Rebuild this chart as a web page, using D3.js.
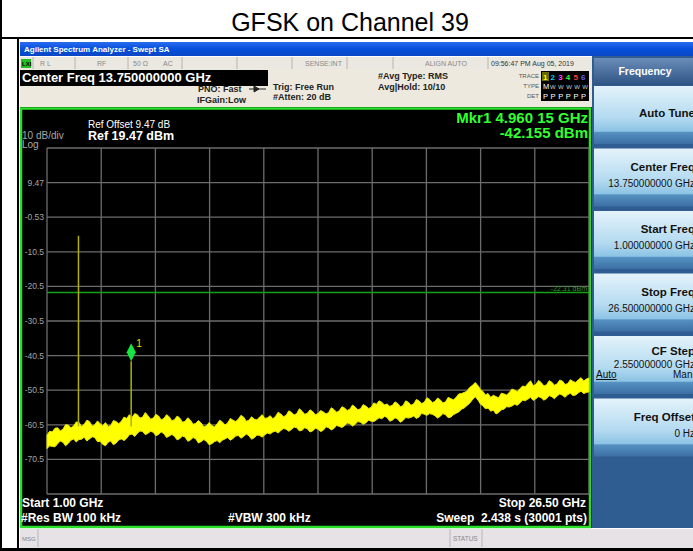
<!doctype html>
<html lang="en">
<head>
<meta charset="UTF-8">
<title>GFSK on Channel 39</title>
<script src="https://d3js.org/d3.v7.min.js"></script>
<style>
body { margin: 0; background-color: #ffffff; }
svg { display: block; }
text { font-family: "Liberation Sans", Arial, sans-serif; }
</style>
</head>
<body>
<div id="plot"></div>
<script>

// sweep settings
var startGHz = 1.00;
var stopGHz = 26.50;
var refLevel = 19.47;
var dbPerDiv = 10;
var displayLine = -22.31;

// y tick labels printed on the left of the graticule
var yTickLabels = ["9.47", "-0.53", "-10.5", "-20.5", "-30.5", "-40.5", "-50.5", "-60.5", "-70.5"];

// sample frequencies of the noise floor (GHz), finer around the bump at 21.15 GHz
var traceGHz = d3.range(1, 21.001, 0.125)
	.concat([21.15, 21.30, 21.40, 21.50])
	.concat(d3.range(21.625, 26.501, 0.125));

// noise floor: top edge of the yellow band (dBm), one row per GHz
var traceUpper = [
	-63.5, -62.4, -62.6, -61.5, -61.4, -62.3, -61.8, -60.5,
	-60.6, -61.4, -60.9, -59.7, -59.8, -61.0, -60.4, -59.2,
	-59.6, -60.9, -60.5, -59.4, -60.2, -60.8, -59.9, -61.0,
	-60.7, -59.3, -59.6, -60.2, -59.5, -58.3, -58.7, -57.6,
	-58.4, -57.3, -57.6, -58.6, -58.3, -57.0, -57.9, -58.9,
	-58.6, -57.5, -58.0, -59.1, -58.7, -57.6, -58.2, -59.4,
	-59.0, -58.0, -58.6, -59.8, -59.5, -58.5, -59.2, -60.4,
	-60.1, -59.3, -60.0, -61.1, -60.8, -59.9, -60.7, -61.2,
	-60.3, -59.2, -59.7, -60.6, -60.0, -58.7, -59.2, -59.6,
	-58.9, -57.8, -58.3, -59.5, -59.2, -58.2, -58.9, -59.1,
	-58.3, -57.6, -58.7, -58.5, -57.9, -58.8, -58.1, -56.9,
	-57.4, -58.2, -57.8, -56.5, -56.9, -57.7, -57.3, -55.9,
	-56.6, -57.5, -57.2, -56.2, -56.7, -57.6, -57.3, -56.4,
	-56.8, -57.4, -57.0, -55.6, -56.1, -56.9, -56.5, -55.3,
	-55.7, -56.4, -56.0, -54.8, -55.4, -56.2, -55.9, -54.7,
	-55.1, -55.8, -55.5, -54.2, -54.6, -53.6, -54.0, -54.8,
	-54.5, -55.2, -54.9, -53.9, -54.4, -55.3, -55.0, -53.6,
	-54.0, -54.9, -54.5, -53.2, -53.6, -54.4, -54.0, -52.7,
	-53.2, -54.1, -53.8, -52.8, -53.3, -54.2, -53.9, -52.6,
	-53.0, -53.3, -52.6, -51.6, -51.5, -51.2, -50.8, -49.8,
	-49.2, -48.3, -49.4, -50.4, -50.8, -51.9, -51.5, -52.6,
	-52.0, -52.4, -52.7, -51.4, -51.6, -51.9, -51.2, -50.2,
	-50.5, -50.9, -50.1, -49.3, -49.5, -48.6, -47.8, -49.2,
	-48.9, -47.7, -48.3, -49.3, -49.0, -47.8, -48.2, -49.1,
	-48.7, -47.6, -47.9, -48.9, -48.6, -47.5, -48.0, -48.3,
	-47.5, -46.9, -47.9, -47.3, -47.0
];
// bottom edge of the yellow band (dBm)
var traceLower = [
	-67.4, -66.6, -66.8, -66.9, -66.0, -65.2, -65.6, -66.6,
	-65.9, -65.0, -64.6, -65.5, -64.8, -64.7, -64.1, -65.2,
	-64.6, -64.0, -64.2, -65.4, -65.3, -66.2, -66.6, -65.6,
	-65.2, -66.3, -65.8, -64.9, -64.6, -65.1, -64.4, -63.4,
	-63.2, -63.9, -63.0, -62.3, -62.5, -63.4, -63.0, -62.4,
	-62.7, -63.7, -63.3, -62.6, -63.1, -64.2, -63.8, -63.3,
	-63.9, -64.9, -64.5, -63.8, -64.1, -65.3, -64.9, -64.2,
	-64.6, -65.8, -65.4, -64.8, -65.3, -66.3, -66.0, -65.4,
	-65.1, -65.7, -65.0, -64.6, -64.2, -65.0, -64.5, -63.8,
	-63.6, -64.4, -63.9, -63.2, -63.7, -64.7, -64.3, -63.5,
	-63.6, -64.1, -63.4, -62.9, -63.2, -62.6, -62.4, -62.9,
	-62.2, -61.6, -61.8, -62.4, -61.9, -61.2, -61.4, -62.3,
	-62.1, -61.4, -61.7, -62.6, -62.3, -61.5, -61.8, -62.5,
	-62.1, -61.1, -61.4, -62.0, -61.6, -60.7, -61.0, -61.3,
	-60.8, -60.0, -60.2, -60.9, -60.4, -59.6, -59.8, -60.4,
	-60.0, -59.2, -59.5, -59.6, -59.1, -58.5, -58.8, -58.1,
	-58.4, -59.5, -59.2, -58.5, -58.9, -59.8, -59.3, -58.4,
	-58.6, -58.4, -58.0, -58.7, -58.3, -57.2, -57.5, -57.8,
	-57.3, -57.5, -57.9, -58.6, -58.1, -57.3, -57.6, -58.5,
	-58.3, -57.6, -57.2, -56.8, -56.0, -55.7, -55.0, -54.4,
	-53.4, -52.4, -53.6, -54.6, -55.0, -55.9, -55.7, -56.6,
	-56.3, -57.4, -57.0, -56.2, -56.0, -55.3, -55.4, -55.1,
	-54.6, -54.9, -54.2, -53.4, -53.6, -53.1, -52.6, -53.5,
	-53.0, -52.4, -52.7, -53.4, -53.0, -52.1, -52.4, -53.0,
	-52.2, -51.6, -52.0, -52.6, -51.8, -51.4, -52.1, -51.9,
	-51.3, -50.8, -51.5, -51.2, -51.0
];

// narrow emissions: carrier (2.48 GHz) and 2nd harmonic (marker 1)
var spikeGHz = [2.48, 4.96];
var spikeDbm = [-5.9, -42.155];
var markerGHz = 4.96;
var markerDbm = -42.155;

// softkeys on the right
var softKeys = [
	{ label: "Auto Tune", value: "" },
	{ label: "Center Freq", value: "13.750000000 GHz" },
	{ label: "Start Freq", value: "1.000000000 GHz" },
	{ label: "Stop Freq", value: "26.500000000 GHz" },
	{ label: "CF Step", value: "2.550000000 GHz" },
	{ label: "Freq Offset", value: "0 Hz" }
];

var width = 693;
var height = 551;

var svg = d3.select("#plot").append("svg")
	.attr("width", width)
	.attr("height", height);

var defs = svg.append("defs");
var keyGrad = defs.append("linearGradient").attr("id", "keyGrad").attr("x1", 0).attr("y1", 0).attr("x2", 0).attr("y2", 1);
keyGrad.append("stop").attr("offset", "0%").attr("stop-color", "#e4f3fb");
keyGrad.append("stop").attr("offset", "55%").attr("stop-color", "#b3daf0");
keyGrad.append("stop").attr("offset", "78%").attr("stop-color", "#8cc3e4");
keyGrad.append("stop").attr("offset", "80%").attr("stop-color", "#5591c2");
keyGrad.append("stop").attr("offset", "100%").attr("stop-color", "#3c6fa3");
var headGrad = defs.append("linearGradient").attr("id", "headGrad").attr("x1", 0).attr("y1", 0).attr("x2", 0).attr("y2", 1);
headGrad.append("stop").attr("offset", "0%").attr("stop-color", "#6a8cb8");
headGrad.append("stop").attr("offset", "100%").attr("stop-color", "#2f5585");
var barGrad = defs.append("linearGradient").attr("id", "barGrad").attr("x1", 0).attr("y1", 0).attr("x2", 0).attr("y2", 1);
barGrad.append("stop").attr("offset", "0%").attr("stop-color", "#2a6cf0");
barGrad.append("stop").attr("offset", "50%").attr("stop-color", "#0650dc");
barGrad.append("stop").attr("offset", "100%").attr("stop-color", "#0a46c4");
defs.append("clipPath").attr("id", "screenClip")
	.append("rect").attr("x", 20).attr("y", 40).attr("width", 673).attr("height", 508);

// ---- outer table frame + title
svg.append("text")
	.attr("x", 350).attr("y", 31)
	.attr("text-anchor", "middle")
	.style("font-size", "25px")
	.style("fill", "#000")
	.text("GFSK on Channel 39");

svg.append("rect").attr("x", 0).attr("y", 0).attr("width", 2).attr("height", height).style("fill", "#000");
svg.append("rect").attr("x", 0).attr("y", 37).attr("width", width).attr("height", 2).style("fill", "#000");
svg.append("rect").attr("x", 17).attr("y", 37).attr("width", 2).attr("height", height - 37).style("fill", "#000");
svg.append("rect").attr("x", 0).attr("y", 548).attr("width", width).attr("height", 3).style("fill", "#000");

var scr = svg.append("g").attr("clip-path", "url(#screenClip)");

// window title bar
scr.append("rect").attr("x", 20).attr("y", 42).attr("width", 673).attr("height", 14).style("fill", "url(#barGrad)");
scr.append("text").attr("x", 24).attr("y", 52)
	.style("font-size", "8px").style("font-weight", "bold").style("fill", "#fff")
	.text("Agilent Spectrum Analyzer - Swept SA");

// status row
scr.append("rect").attr("x", 20).attr("y", 57).attr("width", 572).attr("height", 12).style("fill", "#ebe8e1");
[33, 75, 128, 182, 237, 292, 347, 393, 488].forEach(function (x) {
	scr.append("line").attr("x1", x).attr("x2", x).attr("y1", 57).attr("y2", 69).style("stroke", "#b8b4ac");
});
scr.append("rect").attr("x", 21).attr("y", 59).attr("width", 10).attr("height", 9).style("fill", "#22c022");
scr.append("text").attr("x", 22).attr("y", 66).style("font-size", "6px").style("font-weight", "bold").style("fill", "#000").text("LXI");
var statusText = [[40, "R L"], [97, "RF"], [133, "50 Ω"], [163, "AC"], [305, "SENSE:INT"], [425, "ALIGN AUTO"]];
statusText.forEach(function (d) {
	scr.append("text").attr("x", d[0]).attr("y", 66).style("font-size", "7px").style("fill", "#888").text(d[1]);
});
scr.append("text").attr("x", 491).attr("y", 66).style("font-size", "7px").style("fill", "#333").text("09:56:47 PM Aug 05, 2019");

// settings area
scr.append("rect").attr("x", 20).attr("y", 69).attr("width", 572).attr("height", 38).style("fill", "#ede9de");
scr.append("rect").attr("x", 20).attr("y", 70).attr("width", 248).attr("height", 16).style("fill", "#000");
scr.append("text").attr("x", 22).attr("y", 82)
	.style("font-size", "13px").style("font-weight", "bold").style("fill", "#fff")
	.text("Center Freq 13.750000000 GHz");
var setText = [
	[198, 92, "PNO: Fast"], [197, 103, "IFGain:Low"], [273, 90, "Trig: Free Run"], [273, 100, "#Atten: 20 dB"],
	[378, 79, "#Avg Type: RMS"], [378, 90, "Avg|Hold: 10/10"]
];
setText.forEach(function (d) {
	scr.append("text").attr("x", d[0]).attr("y", d[1])
		.style("font-size", "9px").style("font-weight", "bold").style("fill", "#222").text(d[2]);
});
scr.append("path").attr("d", "M249,89 L266,89 M254,86 L259,89 L254,92 Z").style("stroke", "#222").style("fill", "#222");

// trace indicator box
[["TRACE", 78], ["TYPE", 88], ["DET", 98]].forEach(function (d) {
	scr.append("text").attr("x", 539).attr("y", d[1]).attr("text-anchor", "end")
		.style("font-size", "6px").style("fill", "#555").text(d[0]);
});
scr.append("rect").attr("x", 541).attr("y", 71).attr("width", 48).attr("height", 30).style("fill", "#000");
var traceColors = ["#ffff00", "#00d0ff", "#ff40ff", "#30ff30", "#ff4040", "#6060ff"];
scr.append("rect").attr("x", 542).attr("y", 72).attr("width", 7).attr("height", 9).style("fill", "#6a6a00");
traceColors.forEach(function (c, i) {
	scr.append("text").attr("x", 543 + i * 7.6).attr("y", 79.5)
		.style("font-size", "8px").style("font-weight", "bold").style("fill", c).text(i + 1);
	scr.append("text").attr("x", 543 + i * 7.6).attr("y", 98.5)
		.style("font-size", "7.5px").style("fill", "#fff").text("P");
});
scr.append("text").attr("x", 543).attr("y", 89).style("font-size", "7.5px").style("fill", "#fff").text("M");
scr.append("text").attr("x", 550).attr("y", 89).style("font-size", "6px").style("fill", "#ccc")
	.attr("textLength", 38).text("WWWWW");

// ---- graticule
var gLeft = 47, gRight = 589, gTop = 148, gBottom = 494;

scr.append("rect").attr("x", 20).attr("y", 107).attr("width", 572).attr("height", 421).style("fill", "#000");
scr.append("rect").attr("x", 21).attr("y", 108.5).attr("width", 569).attr("height", 418.5)
	.style("fill", "none").style("stroke", "#28e028").style("stroke-width", 2.5);

var xScale = d3.scaleLinear().domain([startGHz, stopGHz]).range([gLeft, gRight]);
var yScale = d3.scaleLinear().domain([refLevel - 10 * dbPerDiv, refLevel]).range([gBottom, gTop]);

var gx = d3.range(11).map(function (i) { return startGHz + i * (stopGHz - startGHz) / 10; });
var gy = d3.range(11).map(function (i) { return refLevel - i * dbPerDiv; });

scr.append("g").selectAll("line").data(gx).enter().append("line")
	.attr("x1", function (d) { return xScale(d); }).attr("x2", function (d) { return xScale(d); })
	.attr("y1", gTop).attr("y2", gBottom)
	.style("stroke", "#6c6c6c").style("stroke-width", 1.3);
scr.append("g").selectAll("line").data(gy).enter().append("line")
	.attr("x1", gLeft).attr("x2", gRight)
	.attr("y1", function (d) { return yScale(d); }).attr("y2", function (d) { return yScale(d); })
	.style("stroke", "#6c6c6c").style("stroke-width", 1.3);

yTickLabels.forEach(function (t, i) {
	scr.append("text").attr("x", 44).attr("y", yScale(gy[i + 1]) + 3)
		.attr("text-anchor", "end")
		.style("font-size", "8.5px").style("fill", "#a4a4a4").text(t);
});

// display line
scr.append("line").attr("x1", gLeft).attr("x2", gRight)
	.attr("y1", yScale(displayLine)).attr("y2", yScale(displayLine))
	.style("stroke", "#14a014").style("stroke-width", 1.5);
scr.append("text").attr("x", 587).attr("y", yScale(displayLine) - 2).attr("text-anchor", "end")
	.style("font-size", "7px").style("fill", "#2a9a2a").text(displayLine.toFixed(2) + " dBm");

// header texts
scr.append("text").attr("x", 88).attr("y", 128).style("font-size", "10px").style("fill", "#fff").text("Ref Offset 9.47 dB");
scr.append("text").attr("x", 88).attr("y", 140).style("font-size", "12.5px").style("font-weight", "bold").style("fill", "#fff").text("Ref 19.47 dBm");
scr.append("text").attr("x", 22).attr("y", 139).style("font-size", "10px").style("fill", "#a8a8a8").text("10 dB/div");
scr.append("text").attr("x", 22).attr("y", 148).style("font-size", "10px").style("fill", "#a8a8a8").text("Log");
scr.append("text").attr("x", 588).attr("y", 123).attr("text-anchor", "end")
	.style("font-size", "15px").style("font-weight", "bold").style("fill", "#30ff30").text("Mkr1 4.960 15 GHz");
scr.append("text").attr("x", 588).attr("y", 138).attr("text-anchor", "end")
	.style("font-size", "15px").style("font-weight", "bold").style("fill", "#30ff30").text(markerDbm.toFixed(3) + " dBm");

// trace
var band = traceGHz.map(function (f, i) { return { f: f, hi: traceUpper[i], lo: traceLower[i] }; });
var area = d3.area()
	.x(function (d) { return xScale(d.f); })
	.y0(function (d) { return yScale(d.lo); })
	.y1(function (d) { return yScale(d.hi); });
scr.append("path").datum(band).attr("d", area)
	.style("fill", "#ffff00").style("stroke", "#e8e800").style("stroke-width", 1);

spikeGHz.forEach(function (f, i) {
	scr.append("line").attr("x1", xScale(f)).attr("x2", xScale(f))
		.attr("y1", yScale(spikeDbm[i])).attr("y2", yScale(-61))
		.style("stroke", "#b0b000").style("stroke-width", 1.5);
});

// marker 1
var mx = xScale(markerGHz), my = yScale(markerDbm);
scr.append("path")
	.attr("d", "M" + mx + "," + (my - 18) + " L" + (mx + 4.5) + "," + (my - 9) + " L" + mx + "," + my + " L" + (mx - 4.5) + "," + (my - 9) + " Z")
	.style("fill", "#14e840");
scr.append("text").attr("x", mx + 5).attr("y", my - 14).style("font-size", "10px").style("fill", "#e0e000").text("1");

// footer texts
var footer = [
	[22, 507, "start", "Start 1.00 GHz"], [21, 522, "start", "#Res BW 100 kHz"], [228, 522, "start", "#VBW 300 kHz"],
	[586, 507, "end", "Stop 26.50 GHz"], [587, 522, "end", "Sweep  2.438 s (30001 pts)"]
];
footer.forEach(function (d) {
	scr.append("text").attr("x", d[0]).attr("y", d[1]).attr("text-anchor", d[2])
		.style("font-size", "12px").style("font-weight", "bold").style("fill", "#fff")
		.style("white-space", "pre").text(d[3]);
});

// message bar
scr.append("rect").attr("x", 20).attr("y", 529).attr("width", 673).attr("height", 19).style("fill", "#e6e2e6");
[38, 450, 482].forEach(function (x) {
	scr.append("line").attr("x1", x).attr("x2", x).attr("y1", 529).attr("y2", 547).style("stroke", "#b8b4b8");
});
scr.append("text").attr("x", 22).attr("y", 541).style("font-size", "6px").style("fill", "#888").text("MSG");
scr.append("text").attr("x", 453).attr("y", 541).style("font-size", "6.5px").style("fill", "#888").text("STATUS");

// ---- softkey panel
scr.append("rect").attr("x", 592).attr("y", 56).attr("width", 101).attr("height", 472).style("fill", "#2f5d92");
scr.append("rect").attr("x", 594).attr("y", 58).attr("width", 99).attr("height", 27).style("fill", "url(#headGrad)");
scr.append("text").attr("x", 645).attr("y", 75).attr("text-anchor", "middle")
	.style("font-size", "10.5px").style("font-weight", "bold").style("fill", "#fff").text("Frequency");

softKeys.forEach(function (k, i) {
	var y0 = 86 + i * 62.5;
	scr.append("rect").attr("x", 594).attr("y", y0).attr("width", 99).attr("height", 58).style("fill", "url(#keyGrad)");
	var ly = k.value ? y0 + 22 : y0 + 31;
	if (k.label === "CF Step") ly = y0 + 19;
	scr.append("text").attr("x", 695).attr("y", ly).attr("text-anchor", "end")
		.style("font-size", "11.5px").style("font-weight", "bold").style("fill", "#111").text(k.label);
	if (k.value) {
		scr.append("text").attr("x", 695).attr("y", ly + 16 - (k.label === "CF Step" ? 3 : 0)).attr("text-anchor", "end")
			.style("font-size", "10px").style("fill", "#111").text(k.value);
	}
	if (k.label === "CF Step") {
		scr.append("text").attr("x", 596).attr("y", y0 + 42).style("font-size", "10px").style("fill", "#111")
			.style("text-decoration", "underline").text("Auto");
		scr.append("text").attr("x", 673).attr("y", y0 + 42).style("font-size", "10px").style("fill", "#111").text("Man");
	}
});

</script>
</body>
</html>
